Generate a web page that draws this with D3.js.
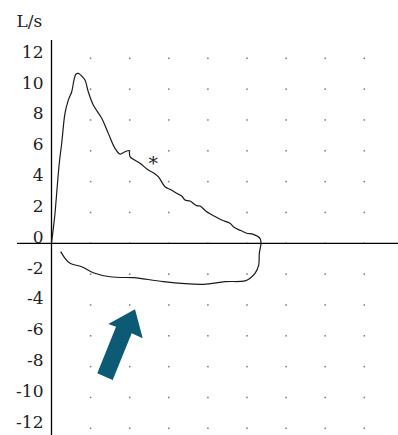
<!DOCTYPE html>
<html>
<head>
<meta charset="utf-8">
<script src="https://cdn.jsdelivr.net/npm/d3@7/dist/d3.min.js"></script>
<style>
  html, body { margin: 0; padding: 0; background: #fff; }
  svg { display: block; }
</style>
</head>
<body>
<svg id="chart" width="398" height="435"></svg>
<script>
// Flow-volume loop: volume (L) and flow (L/s)
const volume = [0, 0.072, 0.090, 0.199, 0.261, 0.345, 0.430, 0.517, 0.575, 0.627, 0.685, 0.772, 0.857, 0.941, 1.069, 1.284, 1.453, 1.624, 1.752, 1.880, 1.982, 2.008, 2.263, 2.476, 2.604, 2.731, 2.903, 3.031, 3.202, 3.330, 3.414, 3.542, 3.714, 3.798, 3.969, 4.156, 4.353, 4.565, 4.650, 4.905, 4.992, 5.161, 5.332, 5.358, 5.315, 5.299, 5.205, 5.077, 4.949, 4.437, 3.882, 2.859, 2.263, 2.092, 1.496, 1.069, 0.772, 0.473, 0.345, 0.235];
const flow = [0, 1.51, 1.95, 5.19, 6.49, 8.43, 9.29, 9.83, 10.59, 10.98, 11.02, 10.85, 10.59, 9.83, 8.97, 8.11, 7.13, 6.16, 5.79, 5.94, 6.01, 5.62, 5.19, 4.75, 4.58, 4.32, 3.67, 3.50, 3.24, 3.07, 2.81, 2.74, 2.44, 2.42, 2.05, 1.77, 1.51, 1.30, 1.08, 0.75, 0.65, 0.58, 0.32, 0, -0.65, -1.41, -1.95, -2.27, -2.44, -2.49, -2.66, -2.49, -2.27, -2.23, -2.17, -1.91, -1.52, -1.30, -0.97, -0.54];

const flowTicks = [12, 10, 8, 6, 4, 2, 0, -2, -4, -6, -8, -10, -12];
const flowTickLabels = ["12", "10", "8", "6", "4", "2", "0", "-2", "-4", "-6", "-8", "-10", "-12"];
const volumeGrid = [1, 2, 3, 4, 5, 6, 7, 8];
const unitLabel = "L/s";

// annotation: asterisk and arrow (data units)
const asterisk = { v: 2.60, f: 4.75, text: "*" };
const arrowVol = [2.136, 1.453, 1.650, 1.171, 1.565, 2.051, 2.332];
const arrowFlow = [-4.28, -5.23, -5.41, -8.43, -8.87, -5.84, -6.16];

const svg = d3.select("#chart");
const x = d3.scaleLinear().domain([0, 9]).range([51.5, 51.5 + 9 * 39.1]);
const y = d3.scaleLinear().domain([-12, 12]).range([428.3, 58.3]);

// dotted grid
const dots = [];
volumeGrid.forEach(v => flowTicks.forEach(f => dots.push([v, f])));
svg.append("g").selectAll("rect").data(dots).join("rect")
  .attr("x", d => x(d[0]) - 0.75)
  .attr("y", d => y(d[1]) - 0.75)
  .attr("width", 1.5).attr("height", 1.5)
  .attr("fill", "#777");

// axes lines
svg.append("line")
  .attr("x1", 17).attr("x2", 398)
  .attr("y1", y(0)).attr("y2", y(0))
  .attr("stroke", "#000").attr("stroke-width", 1.3);
svg.append("line")
  .attr("x1", x(0)).attr("x2", x(0))
  .attr("y1", 40).attr("y2", 435)
  .attr("stroke", "#000").attr("stroke-width", 1.3);

// tick labels
svg.append("g").selectAll("text").data(flowTicks).join("text")
  .attr("x", 43.5)
  .attr("y", d => y(d) - 0.5)
  .attr("text-anchor", "end")
  .attr("font-family", "DejaVu Serif")
  .attr("font-size", 17)
  .attr("fill", "#222")
  .text((d, i) => flowTickLabels[i]);

svg.append("text")
  .attr("x", 16.5).attr("y", 26.5)
  .attr("font-family", "DejaVu Serif")
  .attr("font-size", 17)
  .attr("fill", "#222")
  .text(unitLabel);

// curve
const pts = volume.map((v, i) => [v, flow[i]]);
const line = d3.line().x(d => x(d[0])).y(d => y(d[1])).curve(d3.curveCatmullRom.alpha(0.5));
svg.append("path")
  .attr("d", line(pts))
  .attr("fill", "none")
  .attr("stroke", "#1a1a1a")
  .attr("stroke-width", 1.2)
  .attr("stroke-linejoin", "round");

// asterisk
svg.append("text")
  .attr("x", x(asterisk.v)).attr("y", y(asterisk.f))
  .attr("text-anchor", "middle")
  .attr("font-family", "DejaVu Serif")
  .attr("font-size", 19)
  .attr("fill", "#222")
  .text(asterisk.text);

// arrow
const arrowPts = arrowVol.map((v, i) => [x(v), y(arrowFlow[i])]);
svg.append("polygon")
  .attr("points", arrowPts.map(p => p.join(",")).join(" "))
  .attr("fill", "#0d5a75");
</script>
</body>
</html>
